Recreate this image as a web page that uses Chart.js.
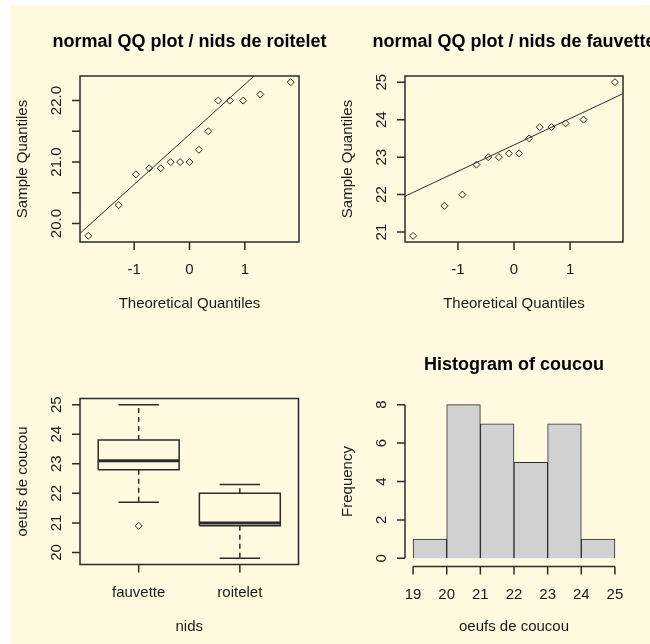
<!DOCTYPE html>
<html>
<head>
<meta charset="utf-8">
<script src="https://cdn.jsdelivr.net/npm/chart.js@4.4.1/dist/chart.umd.min.js"></script>
<style>
    body { margin: 0; background: #fff; }
    #fig { position: absolute; left: 10px; top: 5px; width: 640px; height: 639px; background: #fef9df; }
    #fig canvas { position: absolute; }
</style>
</head>
<body>
<div id="fig">
    <canvas id="qqRoitelet" width="320" height="318" style="left:0;top:0"></canvas>
    <canvas id="qqFauvette" width="320" height="318" style="left:320px;top:0"></canvas>
    <canvas id="boxNids" width="320" height="321" style="left:0;top:318px"></canvas>
    <canvas id="histCoucou" width="320" height="321" style="left:320px;top:318px"></canvas>
</div>
<script>
// nids de roitelet, normal QQ plot
const roiteletTheo = [-1.83, -1.28, -0.97, -0.73, -0.52, -0.34, -0.17, 0, 0.17, 0.34, 0.52, 0.73, 0.97, 1.28, 1.83];
const roiteletSample = [19.8, 20.3, 20.8, 20.9, 20.9, 21.0, 21.0, 21.0, 21.2, 21.5, 22.0, 22.0, 22.0, 22.1, 22.3];
const roiteletLine = [[-1.98, 19.84], [1.98, 23.06]];

// nids de fauvette, normal QQ plot
const fauvetteTheo = [-1.80, -1.24, -0.92, -0.67, -0.46, -0.27, -0.09, 0.09, 0.27, 0.46, 0.67, 0.92, 1.24, 1.80];
const fauvetteSample = [20.9, 21.7, 22.0, 22.8, 23.0, 23.0, 23.1, 23.1, 23.5, 23.8, 23.8, 23.9, 24.0, 25.0];
const fauvetteLine = [[-1.94, 21.96], [1.94, 24.69]];

// boxplot oeufs de coucou ~ nids
const nids = ['fauvette', 'roitelet'];
const boxMin = [21.7, 19.8];
const boxQ1 = [22.8, 20.9];
const boxMed = [23.1, 21.0];
const boxQ3 = [23.8, 22.0];
const boxMax = [25.0, 22.3];
const boxOut = [[20.9], []];

// histogram of coucou
const histBreaks = [19, 20, 21, 22, 23, 24, 25];
const histCounts = [1, 8, 7, 5, 7, 1];

// tick labels
const qqXTicks = [-1, 0, 1];
const roiteletYTicks = [20, 20.5, 21, 21.5, 22];
const roiteletYLabels = ['20.0', '', '21.0', '', '22.0'];
const fauvetteYTicks = [21, 22, 23, 24, 25];
const boxYTicks = [20, 21, 22, 23, 24, 25];
const histYTicks = [0, 2, 4, 6, 8];

const ink = '#2b2b2b';
const FONT = '"Liberation Sans", Arial, sans-serif';

// R-like axes, frame and titles, drawn from the chart's own scales
const rAxes = {
    id: 'rAxes',
    afterDraw(chart, args, o) {
        const ctx = chart.ctx;
        const a = chart.chartArea;
        const x = chart.scales.x, y = chart.scales.y;
        const xt = o.xTicks.map(v => x.getPixelForValue(v));
        const yt = o.yTicks.map(v => y.getPixelForValue(v));
        ctx.save();
        ctx.strokeStyle = ink;
        ctx.fillStyle = '#1a1a1a';
        ctx.lineWidth = 1.5;
        ctx.beginPath();
        const xb = o.box ? a.bottom : a.bottom + 2;
        if (o.box) {
            ctx.rect(a.left, a.top, a.right - a.left, a.bottom - a.top);
        } else {
            ctx.moveTo(xt[0], xb);
            ctx.lineTo(xt[xt.length - 1], xb);
            ctx.moveTo(a.left, yt[0]);
            ctx.lineTo(a.left, yt[yt.length - 1]);
        }
        xt.forEach(p => { ctx.moveTo(p, xb); ctx.lineTo(p, xb + 8); });
        yt.forEach(p => { ctx.moveTo(a.left - 8, p); ctx.lineTo(a.left, p); });
        ctx.stroke();

        ctx.textAlign = 'center';
        ctx.textBaseline = 'middle';
        ctx.font = '15px ' + FONT;
        const xl = o.xLabels || o.xTicks.map(String);
        xt.forEach((p, i) => ctx.fillText(xl[i], p, xb + 28));
        const yl = o.yLabels || o.yTicks.map(String);
        yt.forEach((p, i) => {
            ctx.save();
            ctx.translate(a.left - 23.5, p);
            ctx.rotate(-Math.PI / 2);
            ctx.fillText(yl[i], 0, 0);
            ctx.restore();
        });
        const cx = (a.left + a.right) / 2, cy = (a.top + a.bottom) / 2;
        ctx.fillText(o.xTitle, cx, a.bottom + 62);
        ctx.save();
        ctx.translate(a.left - 57.5, cy);
        ctx.rotate(-Math.PI / 2);
        ctx.fillText(o.yTitle, 0, 0);
        ctx.restore();
        if (o.title) {
            ctx.fillStyle = '#000';
            ctx.font = 'bold 18px ' + FONT;
            ctx.fillText(o.title, cx, a.top - 33.5);
        }
        ctx.restore();
    }
};

const baseOptions = (pad, xr, yr, axes) => ({
    responsive: false,
    animation: false,
    layout: { padding: pad },
    scales: {
        x: { type: 'linear', display: false, offset: false, min: xr[0], max: xr[1] },
        y: { type: 'linear', display: false, min: yr[0], max: yr[1] }
    },
    plugins: { legend: { display: false }, tooltip: { enabled: false }, rAxes: axes }
});

const qqPoints = (xs, ys) => ({
    type: 'scatter',
    data: xs.map((v, i) => ({ x: v, y: ys[i] })),
    pointStyle: 'rectRot',
    pointRadius: 3.5,
    borderColor: ink,
    backgroundColor: 'rgba(0,0,0,0)',
    borderWidth: 1
});

const segment = (pts, width, dash) => ({
    type: 'line',
    data: pts.map(p => ({ x: p[0], y: p[1] })),
    showLine: true,
    pointRadius: 0,
    borderColor: ink,
    borderWidth: width,
    borderDash: dash || [],
    fill: false
});

new Chart(document.getElementById('qqRoitelet'), {
    type: 'scatter',
    data: { datasets: [qqPoints(roiteletTheo, roiteletSample), segment(roiteletLine, 1)] },
    options: baseOptions({ left: 70, top: 71, right: 31, bottom: 81 }, [-1.98, 1.98], [19.7, 22.4], {
        box: true, xTicks: qqXTicks, yTicks: roiteletYTicks, yLabels: roiteletYLabels,
        title: 'normal QQ plot / nids de roitelet', xTitle: 'Theoretical Quantiles', yTitle: 'Sample Quantiles'
    }),
    plugins: [rAxes]
});

new Chart(document.getElementById('qqFauvette'), {
    type: 'scatter',
    data: { datasets: [qqPoints(fauvetteTheo, fauvetteSample), segment(fauvetteLine, 1)] },
    options: baseOptions({ left: 75, top: 71, right: 27, bottom: 81 }, [-1.944, 1.944], [20.736, 25.164], {
        box: true, xTicks: qqXTicks, yTicks: fauvetteYTicks,
        title: 'normal QQ plot / nids de fauvette', xTitle: 'Theoretical Quantiles', yTitle: 'Sample Quantiles'
    }),
    plugins: [rAxes]
});

let boxSets = [];
nids.forEach((n, i) => {
    const c = i + 1;
    boxSets.push(segment([[c - 0.4, boxQ1[i]], [c + 0.4, boxQ1[i]], [c + 0.4, boxQ3[i]], [c - 0.4, boxQ3[i]], [c - 0.4, boxQ1[i]]], 1.5));
    boxSets.push(segment([[c - 0.4, boxMed[i]], [c + 0.4, boxMed[i]]], 3));
    boxSets.push(segment([[c, boxQ3[i]], [c, boxMax[i]]], 1.5, [5, 4]));
    boxSets.push(segment([[c, boxQ1[i]], [c, boxMin[i]]], 1.5, [5, 4]));
    boxSets.push(segment([[c - 0.2, boxMax[i]], [c + 0.2, boxMax[i]]], 1.5));
    boxSets.push(segment([[c - 0.2, boxMin[i]], [c + 0.2, boxMin[i]]], 1.5));
    if (boxOut[i].length) boxSets.push(qqPoints(boxOut[i].map(() => c), boxOut[i]));
});

new Chart(document.getElementById('boxNids'), {
    type: 'scatter',
    data: { datasets: boxSets },
    options: baseOptions({ left: 70, top: 75.5, right: 31.5, bottom: 79.5 }, [0.42, 2.58], [19.592, 25.208], {
        box: true, xTicks: [1, 2], xLabels: nids, yTicks: boxYTicks,
        xTitle: 'nids', yTitle: 'oeufs de coucou'
    }),
    plugins: [rAxes]
});

let histOptions = baseOptions({ left: 75, top: 75.5, right: 27, bottom: 79.5 }, [18.76, 25.24], [-0.32, 8.32], {
    box: false, xTicks: histBreaks, yTicks: histYTicks,
    title: 'Histogram of coucou', xTitle: 'oeufs de coucou', yTitle: 'Frequency'
});
histOptions.scales.x.afterBuildTicks = s => { s.ticks = histBreaks.map(v => ({ value: v })); };

new Chart(document.getElementById('histCoucou'), {
    type: 'bar',
    data: {
        datasets: [{
            data: histCounts.map((c, i) => ({ x: (histBreaks[i] + histBreaks[i + 1]) / 2, y: c })),
            backgroundColor: '#d1d1d1',
            borderColor: ink,
            borderWidth: 1,
            barPercentage: 1,
            categoryPercentage: 1
        }]
    },
    options: histOptions,
    plugins: [rAxes]
});
</script>
</body>
</html>
